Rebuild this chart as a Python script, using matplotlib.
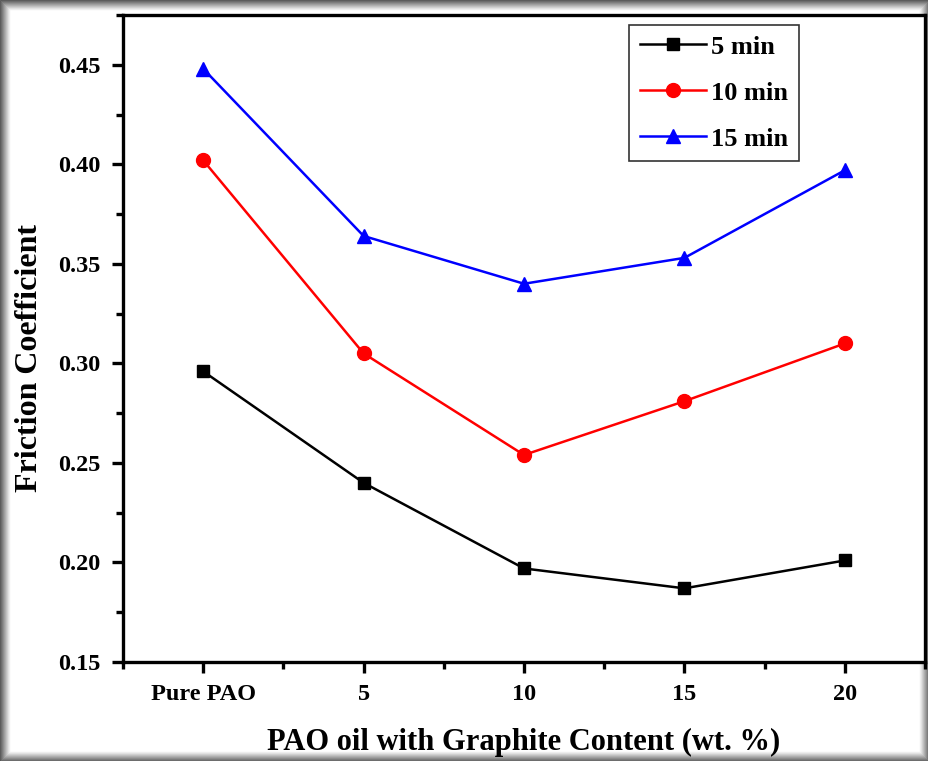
import matplotlib
matplotlib.use("Agg")
import matplotlib.pyplot as plt
import numpy as np
from matplotlib.patches import Rectangle
from matplotlib.ticker import MultipleLocator, FixedLocator, FormatStrFormatter

plt.rcParams['font.family'] = ['Liberation Serif', 'DejaVu Serif']
plt.rcParams['font.weight'] = 'bold'

# data
categories = ['Pure PAO', '5', '10', '15', '20']
min5 = [0.296, 0.240, 0.197, 0.187, 0.201]
min10 = [0.402, 0.305, 0.254, 0.281, 0.310]
min15 = [0.448, 0.364, 0.340, 0.353, 0.397]

x = np.arange(len(categories))

fig = plt.figure(figsize=(9.29, 7.61), dpi=100)
ax = fig.add_axes([123 / 929, 1 - 662 / 761, (925 - 123) / 929, (662 - 15) / 761])

ax.plot(x, min5, color='black', marker='s', markersize=9, lw=1.8, label='5 min')
ax.plot(x, min10, color='#ff0000', marker='o', markersize=10, lw=1.8, label='10 min')
ax.plot(x, min15, color='#0000ff', marker='^', markersize=10, lw=1.8, label='15 min')

ax.set_xlim(-0.5, 4.5)
ax.set_ylim(0.15, 0.475)
ax.set_xticks(x)
ax.set_xticklabels(categories)
ax.xaxis.set_minor_locator(FixedLocator(np.arange(-0.5, 4.6, 1.0)))
ax.set_yticks([0.15, 0.20, 0.25, 0.30, 0.35, 0.40, 0.45])
ax.yaxis.set_minor_locator(MultipleLocator(0.025))
ax.yaxis.set_major_formatter(FormatStrFormatter('%.2f'))

for s in ax.spines.values():
    s.set_linewidth(2.4)
ax.tick_params(which='major', direction='out', length=8, width=2.4, labelsize=17.5, pad=8)
ax.tick_params(which='minor', direction='out', length=5, width=2.4)
for lab in ax.get_xticklabels() + ax.get_yticklabels():
    lab.set_fontweight('bold')

ax.set_xlabel('PAO oil with Graphite Content (wt. %)', fontsize=22, fontweight='bold', labelpad=16)
ax.set_ylabel('Friction Coefficient', fontsize=23, fontweight='bold')
ax.yaxis.set_label_coords(-0.099, 0.47)

leg = ax.legend(loc='upper left', bbox_to_anchor=(0.631, 0.985), fontsize=19, frameon=True,
                fancybox=False, edgecolor='black', handlelength=2.5, borderpad=0.4,
                labelspacing=0.85, handletextpad=0.2, borderaxespad=0)
leg.get_frame().set_linewidth(1.2)
leg._legend_box.sep = 0
for t in leg.get_texts():
    t.set_fontweight('bold')

# shadow frame around the picture
for i in range(10):
    g = 0.35 + i * 0.065
    fig.patches.append(Rectangle((i / 929, i / 761), 1 - 2 * i / 929, 1 - 2 * i / 761,
                                 transform=fig.transFigure, fill=False,
                                 edgecolor=str(min(g, 1.0)), lw=1.0, zorder=-1))

fig.savefig('out.png', dpi=100)
